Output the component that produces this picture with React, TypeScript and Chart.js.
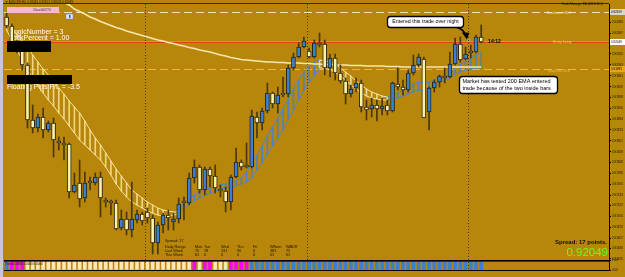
import { useEffect, useRef } from 'react';
import { Chart, registerables } from 'chart.js';

Chart.register(...registerables);

// ---------------- data (prices in points: 1 point = 0.00001) ----------------
const SYMBOL_HEADER = '\u25BC AUDCHF,H4  0.92045 0.92151 0.92026 0.92049';
const EA_NAME = 'Trade Manager EA (2013.10.1)';
const TOTAL_SLOTS = 116;
const TIME_LABELS = ['29 Jul 2013', '30 Jul 04:00', '30 Jul 20:00', '31 Jul 12:00', '1 Aug 04:00', '1 Aug 20:00',
  '2 Aug 12:00', '5 Aug 00:00', '5 Aug 16:00', '6 Aug 08:00', '7 Aug 00:00', '7 Aug 16:00', '8 Aug 08:00',
  '9 Aug 00:00', '9 Aug 16:00', '12 Aug 04:00', '12 Aug 20:00', '13 Aug 12:00', '14 Aug 04:00', '14 Aug 20:00',
  '15 Aug 12:00', '16 Aug 04:00', '16 Aug 20:00'];
const BARS_PER_TIME_LABEL = 4;
const WEEK_START_BARS = [27, 58, 89];

const OPEN_PTS = [
  92099, 92081, 92049, 92033, 92003, 91893, 91877, 91899, 91873, 91887,
  91851, 91847, 91845, 91749, 91767, 91737, 91767, 91767, 91779, 91729,
  91731, 91727, 91677, 91695, 91673, 91693, 91705, 91709, 91697, 91647,
  91683, 91703, 91689, 91695, 91727, 91727, 91777, 91799, 91753, 91795,
  91781, 91755, 91751, 91729, 91779, 91809, 91799, 91799, 91899, 91887,
  91911, 91947, 91925, 91943, 91945, 91997, 92019, 92039, 92031, 92019,
  92047, 92045, 91997, 92017, 91987, 91971, 91945, 91957, 91967, 91919,
  91915, 91923, 91915, 91923, 91911, 91965, 91959, 91953, 91987, 92003,
  92015, 91909, 91957, 91969, 91981, 91979, 92005, 92045, 92015, 92027,
  92029, 92059];
const HIGH_PTS = [
  92107, 92085, 92053, 92037, 92007, 91923, 91905, 91917, 91891, 91897,
  91859, 91859, 91847, 91787, 91813, 91789, 91779, 91787, 91789, 91737,
  91733, 91733, 91713, 91709, 91769, 91713, 91709, 91717, 91703, 91689,
  91707, 91713, 91707, 91737, 91739, 91787, 91813, 91803, 91799, 91799,
  91803, 91763, 91759, 91783, 91837, 91813, 91847, 91913, 91909, 91917,
  91967, 91949, 91959, 91979, 92003, 92027, 92047, 92059, 92037, 92053,
  92067, 92053, 92025, 92025, 92003, 91977, 91963, 91977, 91973, 91933,
  91937, 91933, 91937, 91933, 91969, 91997, 91973, 91993, 92023, 92025,
  92019, 91959, 91973, 91983, 91997, 92029, 92057, 92059, 92039, 92043,
  92063, 92083];
const LOW_PTS = [
  92077, 92043, 92027, 91993, 91877, 91867, 91869, 91857, 91869, 91819,
  91833, 91813, 91737, 91747, 91719, 91729, 91753, 91763, 91699, 91719,
  91703, 91673, 91673, 91663, 91659, 91687, 91683, 91687, 91625, 91625,
  91667, 91673, 91673, 91687, 91693, 91723, 91767, 91747, 91743, 91759,
  91747, 91739, 91709, 91713, 91777, 91793, 91797, 91797, 91857, 91873,
  91907, 91917, 91907, 91939, 91939, 91993, 92017, 92037, 92017, 92017,
  92039, 91983, 91979, 91973, 91967, 91925, 91939, 91949, 91909, 91893,
  91899, 91891, 91903, 91903, 91909, 91953, 91943, 91949, 91983, 91999,
  91897, 91873, 91949, 91959, 91967, 91977, 92003, 92009, 92013, 92017,
  92027, 92047];
const CLOSE_PTS = [
  92081, 92049, 92033, 92003, 91893, 91877, 91899, 91873, 91887, 91853,
  91847, 91843, 91749, 91763, 91735, 91767, 91767, 91779, 91737, 91729,
  91727, 91675, 91695, 91673, 91695, 91705, 91691, 91697, 91647, 91683,
  91703, 91697, 91695, 91725, 91727, 91777, 91799, 91753, 91795, 91781,
  91757, 91751, 91729, 91779, 91809, 91799, 91799, 91901, 91887, 91911,
  91947, 91925, 91943, 91943, 91997, 92019, 92039, 92051, 92019, 92047,
  92043, 91997, 92017, 91987, 91971, 91945, 91955, 91967, 91919, 91913,
  91923, 91915, 91921, 91911, 91967, 91959, 91953, 91987, 92003, 92019,
  91897, 91957, 91969, 91981, 91977, 92005, 92045, 92013, 92025, 92027,
  92059, 92049];

const EMA200_START = 8;
const EMA200_PTS = [
  92145, 92139, 92133, 92128, 92123, 92115, 92110, 92105, 92099, 92095,
  92090, 92086, 92082, 92078, 92075, 92071, 92068, 92065, 92062, 92059,
  92056, 92053, 92051, 92048, 92046, 92043, 92041, 92038, 92036, 92033,
  92031, 92029, 92026, 92023, 92021, 92018, 92016, 92014, 92013, 92012,
  92011, 92010, 92009, 92009, 92008, 92008, 92007, 92007, 92007, 92006,
  92006, 92005, 92005, 92004, 92004, 92003, 92003, 92003, 92002, 92002,
  92002, 92001, 92001, 92001, 92001, 92000, 92000, 92000, 91999, 91999,
  91999, 91999, 91999, 91999, 91999, 91999, 91999, 91999, 91999, 91999,
  91999, 91999, 91999, 91999];

// trend ribbon (two MAs with hatching), bearish (cream) and bullish (blue) stretches
const RIB_BEAR_A_START = 0;
const RIB_BEAR_A_UP = [92089, 92077, 92065, 92051, 92037, 92023, 92009, 91995, 91983, 91971,
  91957, 91945, 91931, 91919, 91907, 91891, 91873, 91857, 91843, 91827,
  91811, 91795, 91781, 91767, 91753, 91745, 91737, 91729, 91723, 91717,
  91713, 91711, 91709, 91709];
const RIB_BEAR_A_LO = [92073, 92053, 92033, 92013, 91993, 91977, 91961, 91947, 91933, 91921,
  91907, 91895, 91881, 91867, 91853, 91843, 91833, 91823, 91813, 91799,
  91783, 91765, 91751, 91739, 91729, 91723, 91717, 91711, 91707, 91703,
  91701, 91701, 91703, 91705];
const RIB_BULL_A_START = 33;
const RIB_BULL_A_UP = [91709, 91727, 91735, 91743, 91749, 91753, 91757, 91761, 91763, 91765,
  91767, 91771, 91777, 91789, 91807, 91823, 91841, 91861, 91879, 91897,
  91915, 91935, 91955, 91973, 91989, 92001, 92009, 92013];
const RIB_BULL_A_LO = [91705, 91717, 91725, 91731, 91737, 91743, 91747, 91751, 91755, 91757,
  91759, 91761, 91765, 91769, 91777, 91793, 91807, 91825, 91841, 91857,
  91873, 91893, 91913, 91933, 91953, 91969, 91981, 91997];
const RIB_BEAR_B_START = 60;
const RIB_BEAR_B_UP = [92013, 92011, 92009, 92005, 91997, 91989, 91981, 91971, 91963, 91955,
  91949, 91945, 91941, 91939];
const RIB_BEAR_B_LO = [91997, 91997, 91993, 91989, 91981, 91973, 91963, 91955, 91947, 91941,
  91937, 91935, 91933, 91933];
const RIB_BULL_B_START = 73;
const RIB_BULL_B_UP = [91939, 91943, 91947, 91953, 91959, 91965, 91969, 91967, 91969, 91973,
  91977, 91979, 91985, 91997, 92005, 92009, 92017, 92023, 92029];
const RIB_BULL_B_LO = [91933, 91935, 91937, 91941, 91945, 91949, 91953, 91951, 91957, 91963,
  91969, 91973, 91977, 91985, 91989, 91993, 91995, 91997, 91997];

// sub-window trend state per bar: B = up, M = down, Y = flat
const TREND_STATE = ['B', 'MMM', 'YYYYYYYY', 'YYYYYYYY', 'YYYYYYYY', 'YYYYYYYY', 'M', 'Y', 'MM', 'YYY', 'MMMM',
  'BBBBBBBBB', 'BBBBBBBBB', 'BBBBBBBBB', 'BBBBBBBBB', 'BBBBBBBBB'].join('').split('');

const Y_MIN_PTS = 91613;
const Y_MAX_PTS = 92125;
const Y_TICKS_PTS = [92089, 92067, 92046, 92025, 92003, 91981, 91959, 91938, 91916, 91894, 91873, 91851,
  91829, 91808, 91786, 91765, 91743, 91722, 91700, 91679, 91657, 91636, 91615];

const BREAKEVEN_PTS = 92109;
const ENTRY_PTS = 92049;
const BID_LINE_PTS = 92052;
const STOPLOSS_PTS = 91995;
const SPREAD_POINTS = 17;
const CANDLE_TIMER = '14:12';

const STATS_DAYS = ['Mon', 'Tue', 'Wed', 'Thu', 'Fri', 'WSum', 'WADR'];
const STATS_LAST_WEEK = [75, 78, 131, 90, 6, 381, 75];
const STATS_THIS_WEEK = [61, 0, 0, 0, 0, 61, 61];

// ---------------- styles ----------------
const BG = '#B8860B';
const BULL = '#3A7FD5';
const BEAR = '#FBF0A8';
const OUTLINE = '#2a2410';
const WICK = '#4a3806';
const FONT = '"Liberation Sans", Arial, sans-serif';

const P = (v: number | null) => (v == null ? null : v / 1e5);

function place(start: number, vals: number[]) {
  const out: (number | null)[] = new Array(OPEN_PTS.length).fill(null);
  vals.forEach((v, k) => { out[start + k] = P(v); });
  return out;
}
function hatch(segs: [number, number[], number[]][]) {
  const out: any[] = new Array(OPEN_PTS.length).fill(null);
  segs.forEach(([s, up, lo]) => up.forEach((u, k) => { out[s + k] = [P(lo[k]), P(u)]; }));
  return out;
}

function txt(ctx: CanvasRenderingContext2D, s: string, x: number, y: number, size: number, color: string,
  align: CanvasTextAlign = 'left', weight = 'normal') {
  ctx.font = `${weight} ${size}px ${FONT}`;
  ctx.fillStyle = color;
  ctx.textAlign = align;
  ctx.textBaseline = 'middle';
  ctx.fillText(s, x, y);
}
function rrect(ctx: CanvasRenderingContext2D, x: number, y: number, w: number, h: number, r: number) {
  ctx.beginPath();
  ctx.moveTo(x + r, y);
  ctx.arcTo(x + w, y, x + w, y + h, r);
  ctx.arcTo(x + w, y + h, x, y + h, r);
  ctx.arcTo(x, y + h, x, y, r);
  ctx.arcTo(x, y, x + w, y, r);
  ctx.closePath();
}

const overlay = {
  id: 'mt4overlay',
  beforeDraw(chart: any) {
    const { ctx, width, height } = chart;
    ctx.save();
    ctx.fillStyle = BG;
    ctx.fillRect(0, 0, width, height);
    ctx.restore();
  },
  beforeDatasetsDraw(chart: any) {
    const { ctx, chartArea, scales } = chart;
    const x = scales.x, y = scales.y;
    ctx.save();
    const slot = x.getPixelForValue(1) - x.getPixelForValue(0);
    ctx.strokeStyle = '#4a3500';
    ctx.lineWidth = 1;
    ctx.setLineDash([1, 2]);
    WEEK_START_BARS.forEach((i) => {
      const px = Math.round(x.getPixelForValue(i) - slot / 2) + 0.5;
      ctx.beginPath();
      ctx.moveTo(px, chartArea.top);
      ctx.lineTo(px, chartArea.bottom);
      ctx.stroke();
    });
    const hline = (pts: number, color: string, dash: number[]) => {
      const py = Math.round(y.getPixelForValue(pts / 1e5)) + 0.5;
      ctx.strokeStyle = color;
      ctx.setLineDash(dash);
      ctx.beginPath();
      ctx.moveTo(chartArea.left, py);
      ctx.lineTo(chartArea.right, py);
      ctx.stroke();
    };
    hline(BREAKEVEN_PTS, '#EDE2B8', [8, 4]);
    hline(STOPLOSS_PTS, '#F2B33D', [8, 4]);
    hline(BID_LINE_PTS, '#79C23C', []);
    hline(ENTRY_PTS, '#E2401B', []);
    ctx.setLineDash([]);
    txt(ctx, 'LogicNumber = 3', 10, 31.7, 7, '#ffffff');
    txt(ctx, 'RiskPercent = 1.00', 10, 37.9, 7, '#ffffff');
    txt(ctx, 'Floating Pips P/L = -3.5', 7, 87.3, 7, '#ffffff');
    ctx.restore();
  },
  afterDatasetsDraw(chart: any) {
    const { ctx, scales } = chart;
    const y = scales.y;
    ctx.save();
    // black label boxes
    ctx.fillStyle = '#000';
    ctx.fillRect(7, 41, 44, 11);
    ctx.fillRect(7, 75, 65, 9);
    // level captions
    txt(ctx, 'Breakeven 30.0', 547, y.getPixelForValue(BREAKEVEN_PTS / 1e5) + 1, 3.4, '#EFE4BC');
    txt(ctx, 'Entry Long', 553, y.getPixelForValue(ENTRY_PTS / 1e5), 3.8, '#F6D649');
    txt(ctx, 'StopLoss 58.8', 548, y.getPixelForValue(STOPLOSS_PTS / 1e5) + 2.5, 3.4, '#F3BD55');
    txt(ctx, CANDLE_TIMER, 494.5, 42, 5, '#000', 'center', 'bold');
    // callouts
    ctx.lineWidth = 1.3;
    ctx.strokeStyle = '#000';
    ctx.fillStyle = '#fff';
    rrect(ctx, 387.5, 16.5, 76, 11, 3);
    ctx.fill(); ctx.stroke();
    txt(ctx, 'Entered this trade over night', 425.5, 22, 5.3, '#000', 'center');
    ctx.fillStyle = '#fff';
    rrect(ctx, 459.5, 76.5, 98, 17, 3);
    ctx.fill(); ctx.stroke();
    txt(ctx, 'Market has tested 200 EMA entered', 462.5, 81.5, 5.5, '#000');
    txt(ctx, 'trade because of the two inside bars', 462.5, 88.5, 5.5, '#000');
    // arrow
    ctx.lineWidth = 1.8;
    ctx.beginPath();
    ctx.moveTo(457, 27.5);
    ctx.quadraticCurveTo(463, 29, 465, 34);
    ctx.stroke();
    ctx.fillStyle = '#000';
    ctx.beginPath();
    ctx.moveTo(461.8, 32.6);
    ctx.lineTo(469.2, 32.8);
    ctx.lineTo(467, 39.5);
    ctx.closePath();
    ctx.fill();
    ctx.strokeStyle = '#55E0A0';
    ctx.lineWidth = 0.8;
    ctx.beginPath();
    ctx.arc(468.5, 40.5, 1.2, 0, Math.PI * 2);
    ctx.stroke();
    // stats
    const dark = '#1a1200';
    const cols = [195, 204, 221, 237, 253, 270, 286];
    txt(ctx, `Spread: ${SPREAD_POINTS}`, 165, 240.7, 3.8, dark);
    txt(ctx, 'Daily Range', 165, 246.7, 3.8, dark);
    txt(ctx, 'Last Week', 165, 251, 3.8, dark);
    txt(ctx, 'This Week', 165, 255.3, 3.8, dark);
    STATS_DAYS.forEach((d, k) => {
      txt(ctx, d, cols[k], 246.7, 3.8, dark);
      txt(ctx, String(STATS_LAST_WEEK[k]), cols[k], 251, 3.8, dark);
      txt(ctx, String(STATS_THIS_WEEK[k]), cols[k], 255.3, 3.8, dark);
    });
    txt(ctx, `Spread: ${SPREAD_POINTS} points.`, 607, 242, 6, '#111', 'right', 'bold');
    txt(ctx, (CLOSE_PTS[CLOSE_PTS.length - 1] / 1e5).toFixed(5), 608, 252.8, 11.5, '#66FF22', 'right');
    ctx.restore();
  },
  afterDraw(chart: any) {
    const { ctx, chartArea, scales } = chart;
    const y = scales.y;
    ctx.save();
    // frame
    ctx.fillStyle = '#C3C8D2';
    ctx.fillRect(0, 0, 3, chart.height);
    ctx.fillStyle = '#3b2c00';
    ctx.fillRect(3, 3, chartArea.right - 3, 1);
    ctx.fillStyle = '#000';
    ctx.fillRect(chartArea.left, y.bottom, chartArea.right - chartArea.left, 1.6);
    ctx.fillRect(chartArea.left, chartArea.bottom, chartArea.right - chartArea.left, 1);
    // price tags
    const tag = (pts: number, bg: string) => {
      const py = y.getPixelForValue(pts / 1e5);
      ctx.fillStyle = bg;
      ctx.fillRect(610, py - 3, 15, 6);
      txt(ctx, (pts / 1e5).toFixed(5), 611, py, 3, '#000');
    };
    tag(BREAKEVEN_PTS, '#DCD6C4');
    tag(ENTRY_PTS, '#FFFFFF');
    tag(STOPLOSS_PTS, '#F0A020');
    // header texts and objects
    txt(ctx, SYMBOL_HEADER, 5, 1.8, 3, '#1a1200');
    txt(ctx, EA_NAME, 603, 4.2, 3, '#1a1200', 'right');
    ctx.fillStyle = '#F7B9CF';
    ctx.fillRect(7, 7, 52, 6);
    txt(ctx, 'Close000774', 33, 10, 3, '#333');
    ctx.fillStyle = '#E6E9F7';
    ctx.fillRect(66, 14, 7, 5);
    ctx.strokeStyle = '#7C8BC4';
    ctx.lineWidth = 0.6;
    ctx.strokeRect(66, 14, 7, 5);
    ctx.fillStyle = '#3050C0';
    ctx.fillRect(69, 15, 1.5, 3);
    txt(ctx, 'Trend 0.0000 1.0000 0.0000', 5, 264, 3, '#1a1200');
    ctx.restore();
  },
};

export default function App() {
  const ref = useRef<HTMLCanvasElement>(null);
  useEffect(() => {
    document.body.style.margin = '0';
    const canvas = ref.current!;
    const labels = Array.from({ length: TOTAL_SLOTS }, (_, i) => String(i));
    const bodies = OPEN_PTS.map((o, i) => [P(o), P(CLOSE_PTS[i])]);
    const wicks = HIGH_PTS.map((h, i) => [P(LOW_PTS[i]), P(h)]);
    const bodyColors = OPEN_PTS.map((o, i) => (CLOSE_PTS[i] > o ? BULL : BEAR));
    const ema = place(EMA200_START, EMA200_PTS);
    const subColors = TREND_STATE.map((s) => (s === 'B' ? BULL : s === 'M' ? '#FF00FF' : '#F7EBAE'));

    const line = (data: any[], color: string, width: number, order: number) => ({
      type: 'line', data, borderColor: color, borderWidth: width, pointRadius: 0,
      tension: 0, spanGaps: false, order, yAxisID: 'y',
    });

    const chart = new Chart(canvas, {
      type: 'bar',
      data: {
        labels,
        datasets: [
          { data: TREND_STATE.map(() => [0, 1]), backgroundColor: subColors, barThickness: 3,
            grouped: false, yAxisID: 'y2', order: 20 },
          { data: hatch([[RIB_BEAR_A_START, RIB_BEAR_A_UP, RIB_BEAR_A_LO], [RIB_BEAR_B_START, RIB_BEAR_B_UP, RIB_BEAR_B_LO]]),
            backgroundColor: 'rgba(250,234,160,0.8)', barThickness: 1, grouped: false, yAxisID: 'y', order: 12 },
          { data: hatch([[RIB_BULL_A_START, RIB_BULL_A_UP, RIB_BULL_A_LO], [RIB_BULL_B_START, RIB_BULL_B_UP, RIB_BULL_B_LO]]),
            backgroundColor: 'rgba(70,130,205,0.9)', barThickness: 1, grouped: false, yAxisID: 'y', order: 12 },
          line(place(RIB_BEAR_A_START, RIB_BEAR_A_UP), '#F5E6A0', 1, 10),
          line(place(RIB_BEAR_A_START, RIB_BEAR_A_LO), '#F5E6A0', 1, 10),
          line(place(RIB_BEAR_B_START, RIB_BEAR_B_UP), '#F5E6A0', 1, 10),
          line(place(RIB_BEAR_B_START, RIB_BEAR_B_LO), '#F5E6A0', 1, 10),
          line(place(RIB_BULL_A_START, RIB_BULL_A_UP), '#4A86CF', 1, 10),
          line(place(RIB_BULL_A_START, RIB_BULL_A_LO), '#4A86CF', 1, 10),
          line(place(RIB_BULL_B_START, RIB_BULL_B_UP), '#4A86CF', 1, 10),
          line(place(RIB_BULL_B_START, RIB_BULL_B_LO), '#4A86CF', 1, 10),
          line(ema, '#F6E9B0', 1.5, 9),
          { data: wicks, backgroundColor: WICK, barThickness: 1, grouped: false, yAxisID: 'y', order: 4 },
          { data: bodies, backgroundColor: bodyColors, borderColor: OUTLINE, borderWidth: 1,
            borderSkipped: false, minBarLength: 2, barThickness: 4, grouped: false, yAxisID: 'y', order: 2 },
        ] as any,
      },
      options: {
        animation: false,
        responsive: false,
        devicePixelRatio: 1,
        layout: { padding: { left: 4, top: 4, right: 0, bottom: 0 } },
        plugins: { legend: { display: false }, tooltip: { enabled: false } },
        scales: {
          x: {
            type: 'category',
            offset: true,
            grid: { display: false },
            border: { display: false },
            ticks: {
              autoSkip: false, maxRotation: 0, minRotation: 0, align: 'start', padding: 1,
              color: '#1a1200', font: { size: 3.2, family: FONT },
              callback: (_v: any, i: number) =>
                i % BARS_PER_TIME_LABEL === 0 && i / BARS_PER_TIME_LABEL < TIME_LABELS.length
                  ? TIME_LABELS[i / BARS_PER_TIME_LABEL] : '',
            },
            afterFit: (s: any) => { s.height = 7; },
          },
          y: {
            type: 'linear', position: 'right', stack: 'pane', stackWeight: 256,
            min: Y_MIN_PTS / 1e5, max: Y_MAX_PTS / 1e5,
            afterBuildTicks: (s: any) => { s.ticks = Y_TICKS_PTS.map((v) => ({ value: v / 1e5 })); },
            ticks: { autoSkip: false, padding: 1, color: '#1a1200', font: { size: 3, family: FONT },
              callback: (v: any) => Number(v).toFixed(5) },
            grid: { drawOnChartArea: false, drawTicks: true, tickLength: 2, color: '#000' },
            border: { color: '#000' },
            afterFit: (s: any) => { s.width = 16; },
          },
          y2: {
            type: 'linear', position: 'right', stack: 'pane', stackWeight: 10,
            min: 0, max: 1,
            afterBuildTicks: (s: any) => { s.ticks = [{ value: 1 }, { value: 0 }]; },
            ticks: { autoSkip: false, padding: 1, color: '#1a1200', font: { size: 3, family: FONT },
              callback: (v: any) => Number(v).toFixed(2) },
            grid: { drawOnChartArea: false, drawTicks: true, tickLength: 2, color: '#000' },
            border: { color: '#000' },
            afterFit: (s: any) => { s.width = 16; },
          },
        },
      } as any,
      plugins: [overlay],
    });
    return () => chart.destroy();
  }, []);
  return <canvas ref={ref} width={625} height={277} style={{ display: 'block', width: 625, height: 277 }} />;
}
